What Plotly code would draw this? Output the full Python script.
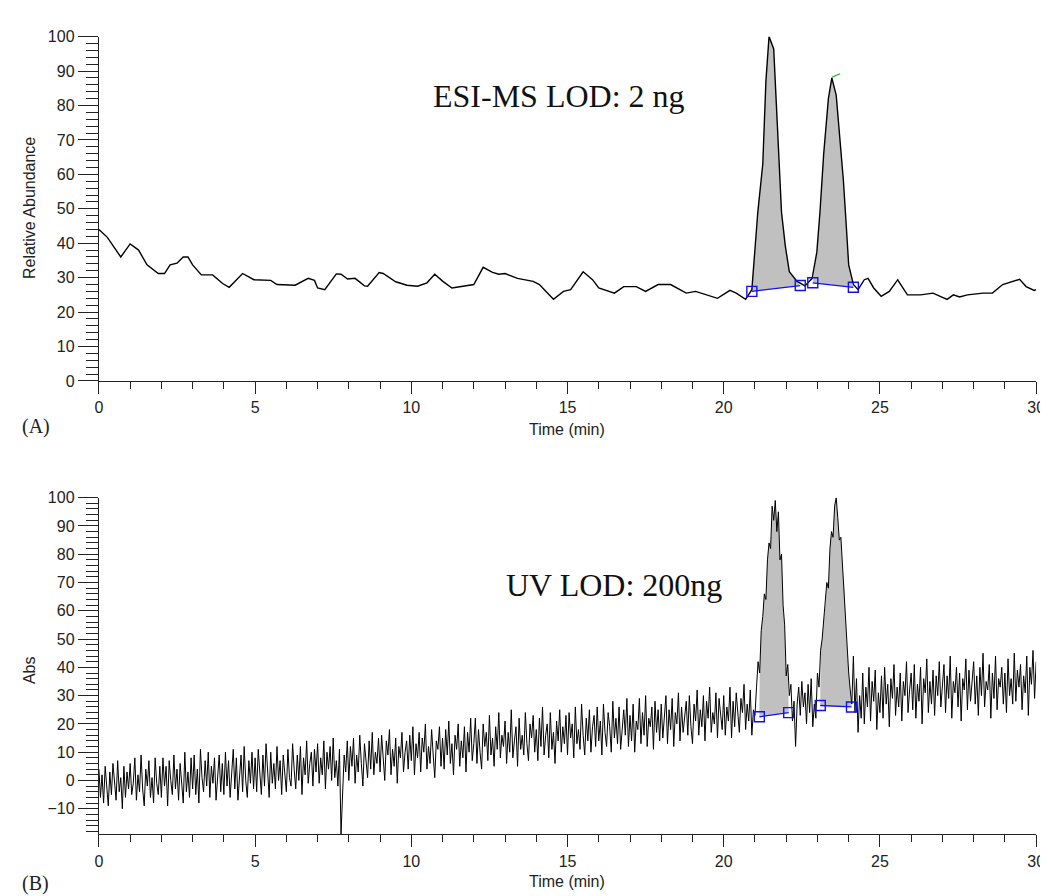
import numpy as np
import plotly.graph_objects as go

W, H = 1048, 896

# ---------------- Panel A: ESI-MS trace ----------------
ms_time = [0, 0.27, 0.7, 1.0, 1.27, 1.54, 1.9, 2.1, 2.28, 2.5, 2.7, 2.85, 3.0, 3.28, 3.64, 3.96,
           4.17, 4.6, 4.96, 5.5, 5.7, 6.28, 6.7, 6.9, 7.0, 7.23, 7.6, 7.75, 7.96, 8.2, 8.5, 8.6,
           8.97, 9.1, 9.5, 9.86, 10.2, 10.5, 10.75, 11.0, 11.3, 11.6, 12.0, 12.3, 12.6, 12.8,
           13.0, 13.4, 13.9, 14.1, 14.55, 14.87, 15.1, 15.5, 15.8, 16.0, 16.5, 16.8, 17.2, 17.5,
           17.9, 18.3, 18.5, 18.8, 19.1, 19.8, 20.2, 20.4, 20.7, 20.9, 21.09, 21.25, 21.35, 21.45,
           21.6, 21.68, 21.77, 21.85, 21.97, 22.1, 22.35, 22.5, 22.6, 22.83, 22.98, 23.08, 23.2,
           23.35, 23.46, 23.6, 23.7, 23.83, 23.93, 24.0, 24.15, 24.3, 24.5, 24.62, 24.8, 25.04,
           25.3, 25.57, 25.6, 25.88, 26.3, 26.7, 27.15, 27.35, 27.55, 27.8, 28.3, 28.6, 28.93,
           29.25, 29.47, 29.68, 29.94, 30.0]
ms_abund = [44, 41.7, 36, 39.8, 38, 33.7, 31.2, 31.2, 33.7, 34.2, 36, 36, 33.7, 30.8, 30.8, 28.3,
            27.2, 31.2, 29.4, 29.2, 28, 27.8, 29.8, 29.2, 27, 26.5, 31.1, 31, 29.6, 29.8, 27.6, 27.5,
            31.5, 31.2, 28.8, 27.8, 27.5, 28.5, 31, 29, 27, 27.5, 28, 33, 31.5, 31,
            31.2, 29.8, 28.9, 28, 23.7, 26, 26.5, 31.7, 29.4, 27, 25.5, 27.4, 27.4, 26,
            28, 28, 27, 25.5, 26, 24, 26.3, 25.5, 23.7, 26.5, 48.9, 63, 87, 100,
            96.4, 82, 63, 49, 39.3, 31.7, 28.9, 28, 27.6, 29.8, 37.4, 49, 66,
            82, 88, 83, 72.6, 58.3, 44, 33.7, 28, 26.5, 29.4, 29.8, 27, 24.6,
            26, 29.4, 28.9, 25, 25, 25.5, 23.7, 25, 24.4, 25, 25.5, 25.5, 28,
            28.9, 29.5, 27.4, 26.3, 26.5]
ms_base_t = [20.9, 22.45, 22.85, 24.15]
ms_base_v = [26.0, 27.7, 28.5, 27.2]
ms_green_t = [23.46, 23.72]
ms_green_v = [88.2, 89.2]

# ---------------- Panel B: UV trace (one value every 0.05 min, one row per minute) ----------------
uv_abs = [
    4, -6, 2, -8, 5, -3, -9, 3, -5, 6, -2, -7, 7, -4, 1, -10, 5, -6, 3, -3,
    6, -5, -1, 8, -7, 2, -4, 9, -3, -9, 4, -2, 7, -6, 1, -8, 8, -1, -5, 5,
    -6, 8, -2, 5, -9, 7, 0, -5, 9, -3, 4, -7, 6, -1, -8, 10, -4, 3, -6, 8,
    -3, 9, -5, 4, -8, 11, 1, -4, 7, -2, 10, -6, 5, -1, 8, -7, 3, 9, -4, 6,
    -5, 10, -2, 7, -6, 4, 11, -3, 8, -7, 2, 9, -4, 12, 0, -6, 7, -1, 10, -3,
    8, -4, 11, 1, -5, 9, -2, 13, 3, -6, 10, -1, 6, -3, 12, 0, 7, -5, 9, 2,
    -4, 11, 1, -2, 13, 4, -3, 9, 0, 12, -5, 8, 2, 14, -1, 6, 10, -2, 11, 3,
    13, -1, 8, 2, 14, -3, 10, 4, 12, 0, 15, 1, 7, -2, 11, -19, -6, 9, 3, 14,
    0, 12, 5, 15, -1, 9, 3, 16, 6, -2, 13, 8, 1, 14, 4, 17, 2, 10, 6, 15,
    3, 16, 7, 0, 14, 9, 18, 2, 11, 5, 15, -1, 12, 8, 17, 3, 10, 14, 4, 16,
    7, 19, 2, 13, 8, 17, 3, 15, 10, 20, 4, 12, 6, 18, 9, 1, 14, 11, 19, 5,
    15, 4, 18, 9, 21, 6, 13, 2, 16, 11, 20, 5, 14, 8, 19, 3, 17, 10, 22, 7,
    13, 22, 6, 18, 10, 4, 20, 12, 17, 7, 23, 9, 15, 5, 19, 11, 24, 8, 16, 12,
    21, 6, 17, 10, 25, 8, 14, 19, 5, 22, 11, 16, 9, 24, 13, 7, 20, 15, 23, 10,
    18, 7, 22, 12, 26, 9, 16, 20, 8, 24, 11, 17, 6, 21, 14, 25, 10, 19, 13, 23,
    9, 24, 15, 20, 8, 26, 13, 18, 11, 27, 16, 9, 22, 14, 25, 10, 19, 23, 12, 26,
    14, 21, 9, 27, 17, 12, 24, 19, 10, 28, 15, 22, 13, 26, 11, 20, 25, 16, 29, 12,
    23, 14, 27, 10, 21, 18, 29, 13, 24, 16, 30, 12, 22, 19, 26, 11, 28, 17, 25, 14,
    27, 15, 22, 30, 13, 25, 18, 29, 12, 24, 20, 31, 14, 26, 17, 23, 28, 16, 30, 19,
    13, 27, 21, 32, 16, 25, 19, 30, 14, 28, 22, 33, 17, 24, 20, 31, 15, 29, 23, 18,
    30, 16, 26, 21, 33, 15, 28, 19, 31, 22, 17, 29, 24, 34, 18, 27, 21, 32, 16, 25,
    23, 33, 42, 38, 53, 58, 66, 64, 78, 84, 82, 97, 92, 99, 88, 95, 78, 80, 62, 55,
    37, 41, 30, 34, 21, 28, 12, 27, 33, 23, 35, 26, 31, 20, 34, 24, 36, 19, 27, 22,
    38, 33, 46, 50, 56, 62, 70, 68, 82, 88, 86, 97, 100, 93, 85, 86, 76, 70, 58, 47,
    38, 32, 27, 44, 24, 36, 17, 30, 22, 38, 20, 33, 26, 40, 21, 35, 28, 39, 18, 31,
    24, 37, 22, 40, 27, 34, 19, 36, 29, 41, 23, 33, 26, 38, 21, 35, 30, 42, 24, 32,
    38, 25, 41, 22, 34, 28, 40, 20, 36, 31, 43, 24, 35, 27, 39, 23, 37, 30, 42, 26,
    33, 41, 24, 37, 29, 44, 22, 35, 31, 40, 26, 38, 21, 36, 32, 43, 25, 39, 28, 34,
    42, 27, 37, 23, 40, 30, 45, 26, 35, 32, 41, 22, 38, 29, 44, 25, 36, 33, 40, 27,
    38, 24, 43, 30, 36, 27, 45, 28, 39, 33, 41, 25, 37, 31, 44, 23, 40, 34, 46, 29,
    42]
uv_time = np.round(np.arange(len(uv_abs)) * 0.05, 2)
uv_base_t = [21.14, 22.08, 23.09, 24.09]
uv_base_v = [22.5, 24.0, 26.5, 26.0]

x_ticks = [0, 5, 10, 15, 20, 25, 30]

# ---------------- helpers ----------------
def peak_polygon(t, v, t0, v0, t1, v1):
    t = np.asarray(t, float)
    v = np.asarray(v, float)
    m = (t > t0) & (t < t1)
    xs = [t0] + list(t[m]) + [t1, t0]
    ys = [v0] + list(v[m]) + [v1, v0]
    return xs, ys

fig = go.Figure()

FILL = "#c0c0c0"
BLUE = "#1010ee"

# Panel A fills
for i in (0, 2):
    xs, ys = peak_polygon(ms_time, ms_abund, ms_base_t[i], ms_base_v[i], ms_base_t[i + 1], ms_base_v[i + 1])
    fig.add_trace(go.Scatter(x=xs, y=ys, fill="toself", fillcolor=FILL, mode="none",
                             xaxis="x", yaxis="y", showlegend=False, hoverinfo="skip"))
fig.add_trace(go.Scatter(x=ms_time, y=ms_abund, mode="lines", line=dict(color="black", width=1.4),
                         xaxis="x", yaxis="y", showlegend=False))
fig.add_trace(go.Scatter(x=ms_green_t, y=ms_green_v, mode="lines", line=dict(color="#22aa22", width=1.2),
                         xaxis="x", yaxis="y", showlegend=False))
for i in (0, 2):
    fig.add_trace(go.Scatter(x=ms_base_t[i:i + 2], y=ms_base_v[i:i + 2], mode="lines+markers",
                             line=dict(color=BLUE, width=1.3),
                             marker=dict(symbol="square-open", size=10, color=BLUE, line=dict(width=1.4)),
                             xaxis="x", yaxis="y", showlegend=False))

# Panel B fills
for i in (0, 2):
    xs, ys = peak_polygon(uv_time, uv_abs, uv_base_t[i], uv_base_v[i], uv_base_t[i + 1], uv_base_v[i + 1])
    fig.add_trace(go.Scatter(x=xs, y=ys, fill="toself", fillcolor=FILL, mode="none",
                             xaxis="x2", yaxis="y2", showlegend=False, hoverinfo="skip"))
fig.add_trace(go.Scatter(x=uv_time, y=uv_abs, mode="lines", line=dict(color="black", width=1.0),
                         xaxis="x2", yaxis="y2", showlegend=False))
for i in (0, 2):
    fig.add_trace(go.Scatter(x=uv_base_t[i:i + 2], y=uv_base_v[i:i + 2], mode="lines+markers",
                             line=dict(color=BLUE, width=1.3),
                             marker=dict(symbol="square-open", size=10, color=BLUE, line=dict(width=1.4)),
                             xaxis="x2", yaxis="y2", showlegend=False))

def px(x):
    return x / W

def py(y):
    return 1 - y / H

TICKFONT = dict(family="Liberation Sans, Arial, sans-serif", size=16, color="#222")
xdom = [px(88), px(1037)]

def xaxis_cfg(anchor):
    return dict(domain=xdom, anchor=anchor, range=[0, 30], showline=True, linecolor="#222",
                linewidth=1.3, ticks="outside", ticklen=12, tickwidth=1.2, tickcolor="#222",
                tickvals=x_ticks, showgrid=False, zeroline=False, tickfont=TICKFONT,
                minor=dict(dtick=1, tick0=0, ticks="outside", ticklen=7, tickwidth=1.2,
                           tickcolor="#222", showgrid=False))

def yaxis_cfg(anchor, dom, rng):
    return dict(domain=dom, anchor=anchor, range=rng, showline=True, linecolor="#222",
                linewidth=1.3, ticks="outside", ticklen=20, tickwidth=1.2, tickcolor="#222",
                tick0=0, dtick=10, showgrid=False, zeroline=False, tickfont=TICKFONT,
                minor=dict(dtick=2, tick0=0, ticks="outside", ticklen=12, tickwidth=1.2,
                           tickcolor="#222", showgrid=False))

fig.update_layout(
    width=W, height=H, margin=dict(l=0, r=0, t=0, b=0),
    plot_bgcolor="white", paper_bgcolor="white",
    xaxis=xaxis_cfg("y"),
    yaxis=yaxis_cfg("x", [py(372), py(21)], [0, 100]),
    xaxis2=xaxis_cfg("y2"),
    yaxis2=yaxis_cfg("x2", [py(834), py(491)], [-19, 100]),
)

SERIF = "Liberation Serif, Times New Roman, serif"
SANS = "Liberation Sans, Arial, sans-serif"
ann = [
    dict(text="ESI-MS LOD: 2 ng", x=px(554), y=py(82), font=dict(family=SERIF, size=32, color="#111")),
    dict(text="UV LOD: 200ng", x=px(610), y=py(580), font=dict(family=SERIF, size=32, color="#111")),
    dict(text="Time (min)", x=px(562), y=py(421), font=dict(family=SANS, size=16, color="#222")),
    dict(text="Time (min)", x=px(562), y=py(882), font=dict(family=SANS, size=16, color="#222")),
    dict(text="(A)", x=px(24), y=py(418), font=dict(family=SERIF, size=20, color="#222")),
    dict(text="(B)", x=px(24), y=py(884), font=dict(family=SERIF, size=20, color="#222")),
    dict(text="Relative Abundance", x=px(18), y=py(196), textangle=-90, font=dict(family=SANS, size=16, color="#222")),
    dict(text="Abs", x=px(18), y=py(667), textangle=-90, font=dict(family=SANS, size=16, color="#222")),
]
for a in ann:
    a.update(xref="paper", yref="paper", showarrow=False, xanchor="center", yanchor="middle")
fig.update_layout(annotations=ann)

fig.write_html("out.html")
